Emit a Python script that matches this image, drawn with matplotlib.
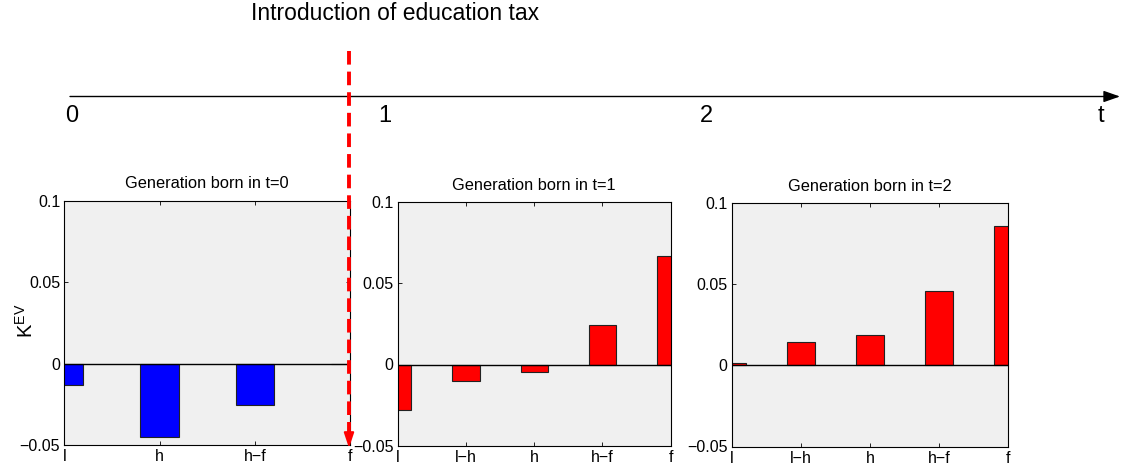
import matplotlib
matplotlib.use("Agg")
import matplotlib.pyplot as plt

plt.rcParams['font.family'] = ['Liberation Sans', 'DejaVu Sans']

# ---- data ----
cats0 = ['l', 'h', 'h\u2212f', 'f']
vals0 = [-0.0134, -0.045, -0.0257, 0.0]
cats1 = ['l', 'l\u2212h', 'h', 'h\u2212f', 'f']
vals1 = [-0.0279, -0.0102, -0.0049, 0.0244, 0.0668]
cats2 = ['l', 'l\u2212h', 'h', 'h\u2212f', 'f']
vals2 = [0.0014, 0.0145, 0.0186, 0.0461, 0.086]
titles = ['Generation born in t=0', 'Generation born in t=1', 'Generation born in t=2']
colors = ['#0000FF', '#FF0000', '#FF0000']
yticks = [-0.05, 0, 0.05, 0.1]
yticklabels = ['\u22120.05', '0', '0.05', '0.1']
timeline_labels = ['0', '1', '2', 't']
timeline_x = [72, 385, 706, 1101]

W, H = 1124, 472
fig = plt.figure(figsize=(W / 100, H / 100), dpi=100)

# panel boxes in pixels: left, top, right, bottom
boxes = [(64.3, 200.6, 350.0, 445.0),
         (397.7, 202.3, 670.7, 445.6),
         (731.7, 203.3, 1008.3, 446.5)]
datasets = [(cats0, vals0), (cats1, vals1), (cats2, vals2)]

for (l, t, r, b), (cats, vals), ttl, col in zip(boxes, datasets, titles, colors):
    ax = fig.add_axes([l / W, 1 - b / H, (r - l) / W, (b - t) / H])
    ax.set_facecolor('#F0F0F0')
    x = list(range(1, len(cats) + 1))
    ax.bar(x, vals, width=0.4, color=col, edgecolor='#222222', linewidth=0.8, zorder=2)
    ax.axhline(0, color='black', linewidth=1.0, zorder=3)
    ax.set_xlim(1, len(cats))
    ax.set_ylim(-0.05, 0.1)
    ax.set_xticks(x)
    ax.set_xticklabels(cats)
    ax.set_yticks(yticks)
    ax.set_yticklabels(yticklabels)
    ax.tick_params(direction='in', length=3, width=0.6, top=True, right=True,
                   labelsize=11.5, pad=3)
    for s in ax.spines.values():
        s.set_linewidth(0.8)
    ax.set_title(ttl, fontsize=11.8, pad=9)

fig.text(26 / W, 1 - 321 / H, r'K$^{\mathregular{EV}}$', fontsize=14.5, rotation=90,
         ha='center', va='center')

# overlay for timeline and arrow
ov = fig.add_axes([0, 0, 1, 1], facecolor='none')
ov.set_xlim(0, W)
ov.set_ylim(H, 0)
ov.axis('off')

ov.annotate('', xy=(1120, 96.5), xytext=(70, 96.5),
            arrowprops=dict(arrowstyle='-|>,head_length=1.0,head_width=0.35',
                            color='black', lw=1.0, shrinkA=0, shrinkB=0))
for lab, xx in zip(timeline_labels, timeline_x):
    ov.text(xx, 116, lab, fontsize=17, ha='center', va='center')

ov.text(395, 14, 'Introduction of education tax', fontsize=16.5, ha='center', va='center')

ov.plot([349, 349], [51, 437], color='#FF0000', lw=2.8, linestyle=(0, (3.5, 1.8)), zorder=5)
ov.annotate('', xy=(349, 448), xytext=(349, 430),
            arrowprops=dict(arrowstyle='-|>,head_length=0.9,head_width=0.3',
                            color='#FF0000', lw=1.5, shrinkA=0, shrinkB=0), zorder=6)

fig.savefig('out.png', dpi=100)
